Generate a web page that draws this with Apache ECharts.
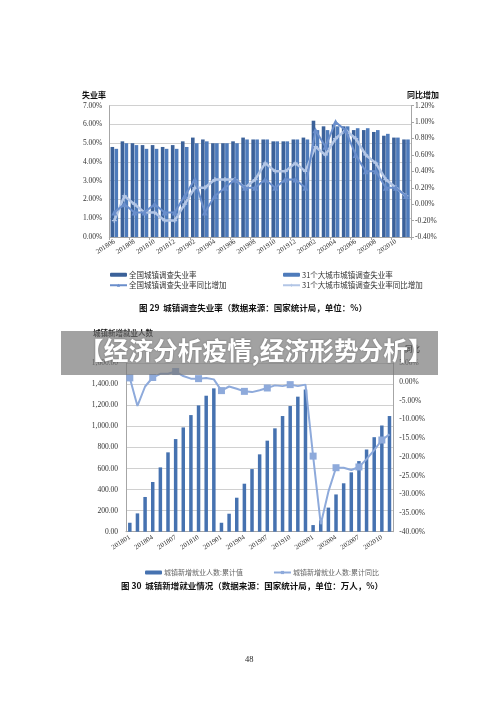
<!DOCTYPE html>
<html><head><meta charset="utf-8">
<script src="https://cdn.jsdelivr.net/npm/echarts@6/dist/echarts.min.js"></script>
<style>html,body{margin:0;padding:0;background:#fff}#c{width:500px;height:707px}</style>
</head><body><div id="c"></div>
<script>
// ---- Chart 29 data ----
const months1 = ['201806','201807','201808','201809','201810','201811','201812','201901','201902','201903','201904','201905','201906','201907','201908','201909','201910','201911','201912','202001','202002','202003','202004','202005','202006','202007','202008','202009','202010','202011'];
const nationalRate = [4.8,5.1,5.0,4.9,4.9,4.8,4.9,5.1,5.3,5.2,5.0,5.0,5.1,5.3,5.2,5.2,5.1,5.1,5.2,5.3,6.2,5.9,6.0,5.9,5.7,5.7,5.6,5.4,5.3,5.2];
const cities31Rate = [4.7,5.0,4.9,4.7,4.7,4.7,4.7,4.8,5.0,5.1,5.0,5.0,5.0,5.2,5.2,5.2,5.1,5.1,5.2,5.2,5.7,5.7,5.9,5.9,5.8,5.8,5.7,5.5,5.3,5.2];
const nationalYoY = [-0.1,0.0,-0.1,-0.1,0.0,-0.1,-0.1,0.1,0.3,-0.1,0.1,0.2,0.3,0.2,0.2,0.3,0.2,0.3,0.3,0.2,0.9,0.7,1.0,0.9,0.6,0.4,0.4,0.2,0.2,0.1];
const cities31YoY = [-0.2,0.1,0.0,-0.1,-0.1,-0.2,-0.2,0.0,0.2,0.2,0.3,0.3,0.3,0.2,0.3,0.5,0.4,0.4,0.5,0.4,0.7,0.6,0.8,0.9,0.8,0.6,0.5,0.3,0.2,0.1];
// ---- Chart 30 data ----
const months2 = ['201801','201802','201803','201804','201805','201806','201807','201808','201809','201810','201811','201812','201901','201902','201903','201904','201905','201906','201907','201908','201909','201910','201911','201912','202001','202002','202003','202004','202005','202006','202007','202008','202009','202010','202011'];
const newJobsCum = [85,174,330,472,611,754,880,991,1108,1200,1292,1362,85,171,323,456,595,735,865,982,1099,1194,1283,1352,63,108,229,354,460,564,671,781,898,1009,1099];
const newJobsYoY = [1.1,-6.4,-1.2,1.2,2.2,2.2,2.8,1.6,0.9,0.9,1.1,0.7,-2.3,-1.2,-1.8,-2.5,-2.7,-2.2,-1.6,-0.9,-1.1,-0.7,-1.1,-0.7,-19.8,-38.0,-29.3,-22.9,-22.9,-23.5,-22.7,-20.6,-18.2,-15.5,-14.0];

const SERIF = 'Liberation Serif';
const CJK = 'Noto Sans CJK SC';
const axisGray = '#a6a6a6';
const gridGray = '#d0d0d0';

const chart = echarts.init(document.getElementById('c'), null, {renderer:'canvas'});
const fmtComma = v => v.toLocaleString('en-US',{minimumFractionDigits:2,maximumFractionDigits:2});

chart.setOption({
  animation:false,
  backgroundColor:'#fff',
  grid:[
    {left:109.3, top:105.7, width:301.7, height:131.3},
    {left:126, top:363.3, width:267.3, height:168.4}
  ],
  xAxis:[
    {type:'category', gridIndex:0, data:months1,
     axisLine:{lineStyle:{color:axisGray}},
     axisTick:{show:true,length:3,lineStyle:{color:axisGray}},
     axisLabel:{interval:1, rotate:33, fontSize:7, fontFamily:SERIF, color:'#333', margin:4}},
    {type:'category', gridIndex:1, data:months2,
     axisLine:{lineStyle:{color:axisGray}},
     axisTick:{show:false},
     axisLabel:{interval:2, rotate:33, fontSize:7, fontFamily:SERIF, color:'#333', margin:5}}
  ],
  yAxis:[
    {type:'value', gridIndex:0, min:0, max:7, interval:1,
     axisLine:{show:true,lineStyle:{color:axisGray}}, axisTick:{show:false},
     splitLine:{lineStyle:{color:gridGray}},
     axisLabel:{formatter:v=>v.toFixed(2)+'%', fontSize:7.5, fontFamily:SERIF, color:'#333', margin:7}},
    {type:'value', gridIndex:0, position:'right', min:-0.4, max:1.2, interval:0.2,
     axisLine:{show:true,lineStyle:{color:axisGray}}, axisTick:{show:true,length:3,lineStyle:{color:axisGray}},
     splitLine:{show:false},
     axisLabel:{formatter:v=>v.toFixed(2)+'%', fontSize:7.5, fontFamily:SERIF, color:'#333', margin:4}},
    {type:'value', gridIndex:1, min:0, max:1600, interval:200,
     axisLine:{show:true,lineStyle:{color:axisGray}}, axisTick:{show:false},
     splitLine:{lineStyle:{color:gridGray}},
     axisLabel:{formatter:fmtComma, fontSize:7.5, fontFamily:SERIF, color:'#333', margin:8}},
    {type:'value', gridIndex:1, position:'right', min:-40, max:5, interval:5,
     axisLine:{show:true,lineStyle:{color:axisGray}}, axisTick:{show:false},
     splitLine:{show:false},
     axisLabel:{formatter:v=>v.toFixed(2)+'%', fontSize:7.5, fontFamily:SERIF, color:'#333', margin:6}}
  ],
  legend:[
    {orient:'vertical', left:104, top:266, itemGap:3, itemWidth:17, itemHeight:4,
     textStyle:{fontSize:7.5, fontFamily:CJK, color:'#333', padding:[0,0,0,-3]},
     data:['全国城镇调查失业率','全国城镇调查失业率同比增加']},
    {orient:'vertical', left:277, top:266, itemGap:3, itemWidth:17, itemHeight:4,
     textStyle:{fontSize:7.5, fontFamily:CJK, color:'#333', padding:[0,0,0,-3]},
     data:['31个大城市城镇调查失业率','31个大城市城镇调查失业率同比增加']},
    {orient:'horizontal', left:140, top:564, itemGap:30, itemWidth:17, itemHeight:4,
     textStyle:{fontSize:7, fontFamily:CJK, color:'#666', padding:[0,0,0,-3]},
     data:['城镇新增就业人数:累计值','城镇新增就业人数:累计同比']}
  ],
  series:[
    {name:'全国城镇调查失业率', type:'bar', xAxisIndex:0, yAxisIndex:0, data:nationalRate,
     barWidth:3.6, barGap:'10%', itemStyle:{color:'#3b6199'}},
    {name:'31个大城市城镇调查失业率', type:'bar', xAxisIndex:0, yAxisIndex:0, data:cities31Rate,
     barWidth:3.6, itemStyle:{color:'#4e7bbb'}},
    {name:'全国城镇调查失业率同比增加', type:'line', xAxisIndex:0, yAxisIndex:1, data:nationalYoY,
     symbol:'triangle', symbolSize:6, itemStyle:{color:'#6a8ecb'}, lineStyle:{width:2,color:'#6a8ecb'}, z:5},
    {name:'31个大城市城镇调查失业率同比增加', type:'line', xAxisIndex:0, yAxisIndex:1, data:cities31YoY,
     symbol:'path://M3,0h2v3h3v2h-3v3h-2v-3h-3v-2h3z', symbolSize:5,
     itemStyle:{color:'#b3c6e6'}, lineStyle:{width:2.5,color:'#b3c6e6'}, z:4},
    {name:'城镇新增就业人数:累计值', type:'bar', xAxisIndex:1, yAxisIndex:2, data:newJobsCum,
     barWidth:3.5, itemStyle:{color:'#4672b0'}},
    {name:'城镇新增就业人数:累计同比', type:'line', xAxisIndex:1, yAxisIndex:3, data:newJobsYoY,
     symbol:'rect', symbolSize:7, itemStyle:{color:'#8eaadb'}, lineStyle:{width:2,color:'#8eaadb'}, z:5}
  ],
  graphic:[
    {type:'text', left:82, top:91, style:{text:'失业率', font:'bold 8px "Noto Sans CJK SC"', fill:'#111'}},
    {type:'text', left:407, top:91, style:{text:'同比增加', font:'bold 8px "Noto Sans CJK SC"', fill:'#111'}},
    {type:'text', left:139, top:304, style:{text:'图 29  城镇调查失业率（数据来源：国家统计局，单位：%）', font:'bold 8.5px "Noto Sans CJK SC"', fill:'#111'}},
    {type:'text', left:93, top:329, style:{text:'城镇新增就业人数', font:'bold 7.5px "Noto Sans CJK SC"', fill:'#111'}},
    {type:'text', left:405, top:345, style:{text:'同比', font:'bold 7.5px "Noto Sans CJK SC"', fill:'#111'}},
    {type:'text', left:121, top:582, style:{text:'图 30  城镇新增就业情况（数据来源：国家统计局，单位：万人，%）', font:'bold 8.5px "Noto Sans CJK SC"', fill:'#111'}},
    {type:'text', left:245, top:655, style:{text:'48', font:'8.5px "Liberation Serif"', fill:'#222'}},
    {type:'rect', z:100, shape:{x:61, y:331, width:377, height:44}, style:{fill:'rgba(118,118,118,0.68)'}},
    {type:'text', z:101, left:79, top:338, style:{text:'【经济分析疫情,经济形势分析】', font:'bold 24.7px "Noto Sans CJK SC"', fill:'#fff', textShadowColor:'rgba(0,0,0,0.35)', textShadowBlur:2}}
  ]
});
</script></body></html>
